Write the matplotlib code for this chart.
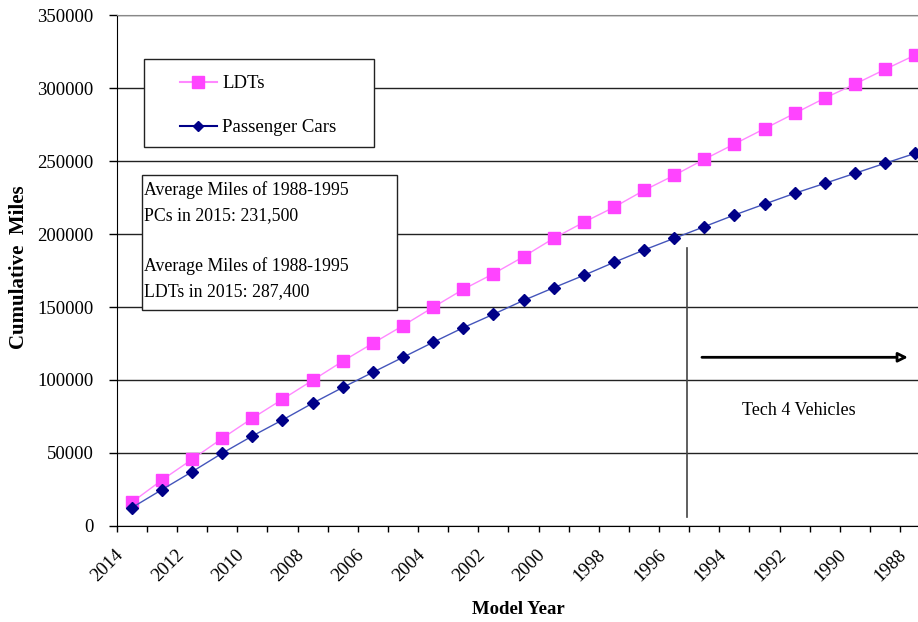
import matplotlib
matplotlib.use("Agg")
import matplotlib.pyplot as plt
import numpy as np
from matplotlib.patches import Rectangle
from matplotlib.lines import Line2D
from matplotlib.transforms import ScaledTranslation

# model years, newest to oldest
years = list(range(2014, 1987, -1))

ldt_miles = [16000, 31300, 45500, 59900, 73700, 86700, 99700, 112800, 125100,
             137200, 149800, 162100, 172800, 184500, 197100, 208100, 218400,
             230000, 240300, 251300, 261800, 272300, 282800, 293300, 302900,
             313000, 322800]
pc_miles = [12300, 24700, 37000, 49700, 61500, 72500, 84000, 94800, 105200,
            115500, 125800, 135800, 145000, 154500, 163200, 171700, 180600,
            189100, 197100, 205100, 213100, 220600, 228000, 234800, 241700,
            248600, 255400]

note_text = ("Average Miles of 1988-1995\nPCs in 2015: 231,500\n\n"
             "Average Miles of 1988-1995\nLDTs in 2015: 287,400")

plt.rcParams['font.family'] = ['Liberation Serif', 'DejaVu Serif']

W, H = 918, 622
fig = plt.figure(figsize=(W / 100, H / 100), dpi=100)
ax = fig.add_axes([116.7 / W, 1 - 525.7 / H, (930.3 - 116.7) / W, (525.7 - 15.4) / H])

x = np.arange(len(years))
ax.plot(x, ldt_miles, color='#ff88ff', lw=1, marker='s', ms=8.4,
        mfc='#ff44ff', mec='#ff44ff', zorder=3, label='LDTs')
ax.plot(x, pc_miles, color='#4455bb', lw=1, marker='D', ms=6.5,
        mfc='#000088', mec='#000088', zorder=3, label='Passenger Cars')

ax.set_xlim(-0.5, len(years) - 0.5)
ax.set_ylim(0, 350000)
ax.set_yticks(np.arange(0, 350001, 50000))
ax.tick_params(axis='y', labelsize=13.5, length=6, width=1, pad=10.5, direction='out')
ax.yaxis.grid(True, color='#222222', lw=1)
ax.set_axisbelow(True)

# tick marks at category boundaries, labels at every other category
ax.set_xticks(np.arange(-0.5, len(years), 1))
ax.set_xticklabels([])
ax.tick_params(axis='x', which='major', length=4, width=1, direction='out')
ax.set_xticks(x[::2], minor=True)
ax.set_xticklabels([str(y) for y in years[::2]], minor=True)
ax.tick_params(axis='x', which='minor', length=0, pad=19, labelsize=13.5)
shift = ScaledTranslation(-11 / 100, 0, fig.dpi_scale_trans)
for lab in ax.get_xticklabels(minor=True):
    lab.set_rotation(45)
    lab.set_ha('right')
    lab.set_va('center')
    lab.set_rotation_mode('anchor')
    lab.set_transform(lab.get_transform() + shift)

for s in ['left', 'bottom']:
    ax.spines[s].set_color('black')
ax.spines['top'].set_color('#888888')
ax.spines['right'].set_visible(False)

fig.text(19 / W, 1 - 267 / H, 'Cumulative  Miles', rotation=90, ha='center',
         va='center', fontsize=15, fontweight='bold')
fig.text(518 / W, 1 - 610 / H, 'Model Year', ha='center', va='center',
         fontsize=13.5, fontweight='bold')

# legend box
fig.patches.append(Rectangle((144.3 / W, 1 - 146.7 / H), (374 - 144.3) / W,
                             (146.7 - 59.3) / H, transform=fig.transFigure,
                             fc='white', ec='#222222', lw=1, zorder=4))
handles = [Line2D([], [], color='#ff88ff', lw=1.5, marker='s', ms=8.4,
                  mfc='#ff44ff', mec='#ff44ff'),
           Line2D([], [], color='#000088', lw=1.5, marker='D', ms=5.5,
                  mfc='#000088', mec='#000088')]
leg = fig.legend(handles, ['LDTs', 'Passenger Cars'], loc='upper left',
                 bbox_to_anchor=(180 / W, 1 - 75 / H), frameon=False,
                 fontsize=13.5, handlelength=1.95, handletextpad=0.3,
                 labelspacing=1.45, borderpad=0, borderaxespad=0)
leg.set_zorder(5)

# note box
fig.patches.append(Rectangle((141.7 / W, 1 - 310 / H), (396.7 - 141.7) / W,
                             (310 - 175) / H, transform=fig.transFigure,
                             fc='white', ec='#222222', lw=1, zorder=4))
fig.text(144 / W, 1 - 181 / H, note_text, ha='left', va='top', fontsize=12.8,
         linespacing=1.62, zorder=5)

# Tech 4 marker line and arrow
ax.plot([18.43, 18.43], [6200, 190300], color='#444444', lw=1.2, zorder=2)
ax.annotate('', xy=(25.85, 115500), xytext=(18.83, 115500),
            arrowprops=dict(arrowstyle='-|>', color='black', lw=2,
                            mutation_scale=14, fc='white'))
ax.text(22.12, 78900, 'Tech 4 Vehicles', ha='center', va='center', fontsize=13)

fig.savefig('out.png', dpi=100)
